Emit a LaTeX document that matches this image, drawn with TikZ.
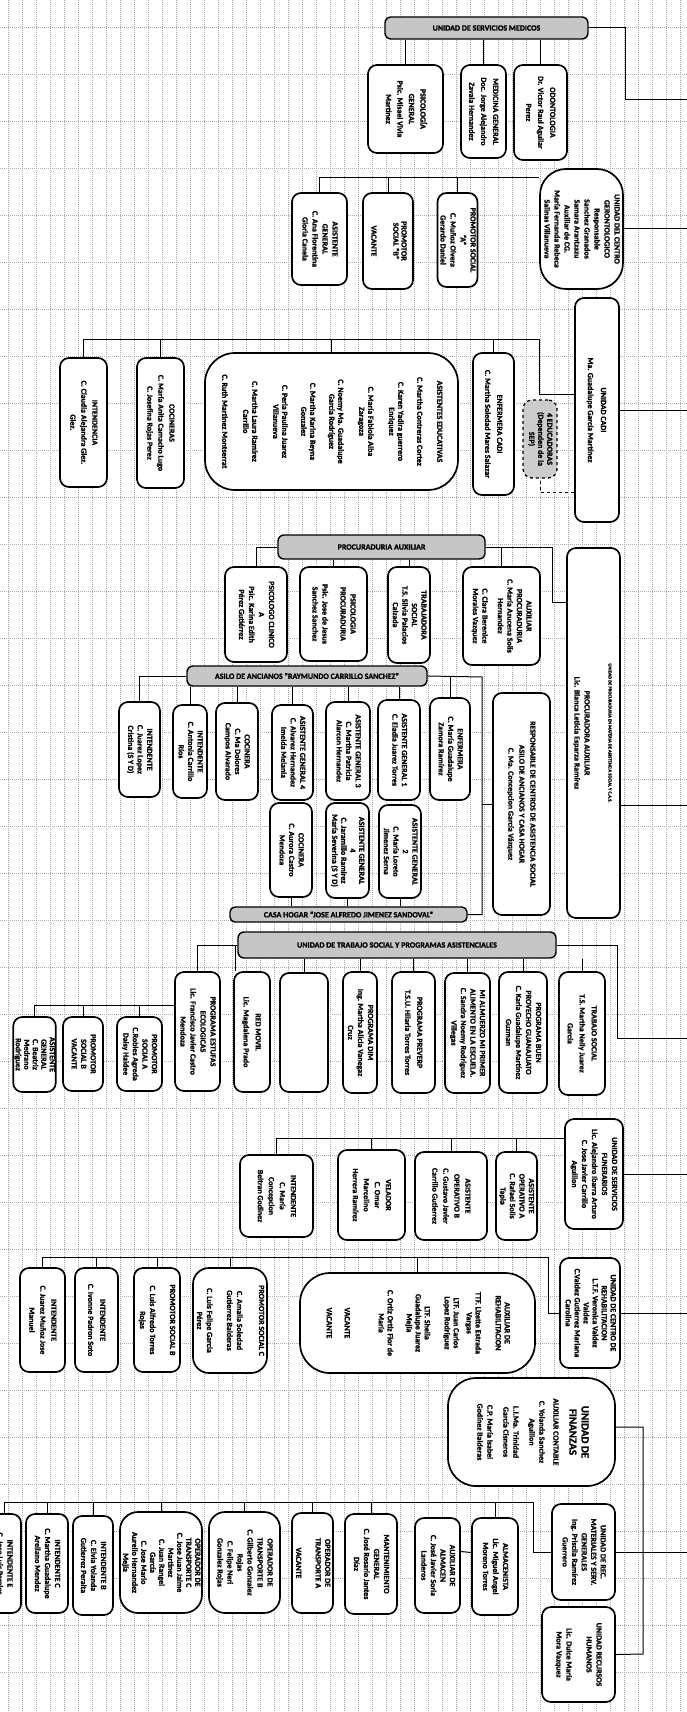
\documentclass[tikz,border=0pt]{standalone}
\usepackage{fontspec}
\setmainfont{Carlito}[BoldFeatures={FakeBold=1.3}]
\usepackage{graphicx}
\usetikzlibrary{backgrounds}
\newcommand\rtt[3]{\rotatebox{-90}{\fontsize{#1}{#2}\selectfont\begin{tabular}{@{}c@{}}#3\end{tabular}}}
\newcommand\rt[2][10]{\rtt{7.9}{#1}{#2}}
\tikzset{
 ubox/.style={draw, line width=1.7pt, rounded corners=9pt, fill=white, inner sep=0pt, font=\bfseries},
 hbox/.style={draw, line width=1.4pt, rounded corners=6pt, fill=gray!45, inner sep=0pt, font=\bfseries\fontsize{8}{9}\selectfont},
 conn/.style={line width=1pt},
 gridln/.style={gray!65, line width=0.45pt, dash pattern=on 0.7pt off 1.3pt},
}
\newcommand\UB[7][]{%
 \pgfmathsetmacro\bw{#5-#3}\pgfmathsetmacro\bh{#6-#4}%
 \node[ubox,minimum width=\bw pt,minimum height=\bh pt,#1] (#2) at ({(#3+#5)/2},{(#4+#6)/2}) {#7};}
\newcommand\HD[7][]{%
 \pgfmathsetmacro\bw{#5-#3}\pgfmathsetmacro\bh{#6-#4}%
 \node[hbox,minimum width=\bw pt,minimum height=\bh pt,#1] (#2) at ({(#3+#5)/2},{(#4+#6)/2}) {#7};}
\begin{document}
\begin{tikzpicture}[x=1pt,y=-1pt]
\path[use as bounding box] (0,0) rectangle (687,1712);
% ---------- SERVICIOS MEDICOS
\HD{sm}{385}{17}{588}{39}{UNIDAD DE SERVICIOS MEDICOS}
\UB{psg}{368}{65}{443}{153}{\rt[11.5]{PSICOLOGÍA\\GENERAL\\Psic. Misael Vivia\\Martinez}}
\UB{medg}{461}{65}{506}{158}{\rt[12]{MEDICINA GENERAL\\Doc. Jorge Alejandro\\Zavala Hernandez}}
\UB{odon}{514}{65}{567}{160}{\rt[12]{ODONTOLOGIA\\Dr. Victor Raul Aguilar\\Perez}}
% ---------- GERONTOLOGICO
\UB[rounded corners=26pt]{gero}{540}{169}{623}{289}{\rt[10]{UNIDAD DEL CENTRO\\GERONTOLOGICO\\Responsable\\Sanchez Granados\\Samara Arantzazu\\Auxiliar de CG.\\María Fernanda Rebeca\\Salinas Villanueva}}
\UB{psa}{438}{193}{477}{287}{\rt[10]{PROMOTOR SOCIAL\\"A"\\C. Muñoz Olvera\\Gerardo Daniel}}
\UB{psb}{363}{193}{413}{289}{\rt[8]{PROMOTOR\\SOCIAL "B"\\[14pt]VACANTE}}
\UB{agg}{292}{193}{347}{285}{\rt[10]{ASISTENTE\\GENERAL\\C. Ana Florentina\\Gloria Canela}}
% ---------- CADI
\UB{cadi}{575}{298}{619}{522}{\rt[13]{UNIDAD CADI\\Ma. Guadalupe García Martínez}}
\UB[dashed,fill=gray!40,line width=1.3pt]{educ}{523}{400}{557}{478}{\rt[9]{4 EDUCADORAS\\(Dependen de la\\SEP)}}
\UB{enfc}{473}{353}{514}{495}{\rt[12]{ENFERMERA CADI\\C. Martha Soledad Mares Salazar}}
\UB[rounded corners=30pt]{asised}{205}{353}{458}{490}{\rt[9]{ASISTENTES EDUCATIVAS\\[11pt]C. Martha Contreras Cortez\\[10pt]C. Karen Yadira guerrero\\Enriquez\\[12pt]C. María Fabiola Alba\\Zaragoza\\[12pt]C. Noemy Ma. Guadalupe\\García Rodríguez\\[10pt]C. Martha Karina Reyna\\Gonzalez\\[10pt]C. Perla Paulina Juarez\\Villanueva\\[12pt]C. Martha Laura Ramírez\\Carrillo\\[12pt]C. Ruth Martinez Montserrat}}
\UB{cocs}{137}{358}{184}{488}{\rt[11]{COCINERAS\\C. María Anita Camacho Lugo\\C. Josefina Rojas Perez}}
\UB{inten}{60}{358}{107}{487}{\rt[11]{INTENDENCIA\\C. Claudia Alejandra Glez.\\Glez.}}
% ---------- PROCURADURIA
\UB{upro}{567}{548}{620}{918}{\rtt{7.9}{10}{{\fontsize{4.6}{6}\selectfont UNIDAD DE PROCURADURIA EN MATERIA DE ASISTENCIA SOCIAL Y C.A.S.}\\[14pt]PROCURADORA AUXILIAR\\Lic. Blanca Leticia Esparza Ramírez}}
\HD{pa}{278}{535}{485}{559}{PROCURADURIA AUXILIAR}
\UB{auxp}{463}{567}{540}{665}{\rt[9.5]{AUXILIAR\\PROCURADURIA\\C. María Azucena Solis\\Hernandez\\[6pt]C. Clara Berenice\\Morales Vazquez}}
\UB{tsp}{388}{567}{430}{663}{\rt[9.5]{TRABAJADORA\\SOCIAL\\T.S. Silvia Palacios\\Calzada}}
\UB{psp}{300}{567}{367}{661}{\rt[10]{PSICOLOGIA\\PROCURADURIA\\[8pt]Psic. Jose de Jesus\\Sanchez Sanchez}}
\UB{psc}{225}{567}{287}{662}{\rt[10]{PSICOLOGO CLINICO\\A\\Psic. Karina Edith\\Pérez Gutiérrez}}
\UB{resp}{493}{693}{550}{915}{\rt[11]{RESPONSABLE DE CENTROS DE ASISTENCIA SOCIAL\\ASILO DE ANCIANOS Y CASA HOGAR\\C. Ma. Concepcion García Vázquez}}
\HD{asilo}{187}{666}{427}{686}{ASILO DE ANCIANOS "RAYMUNDO CARRILLO SANCHEZ"}
\UB{enf}{430}{698}{470}{800}{\rt[9.5]{ENFERMERA\\C. María Guadalupe\\Zamora Ramírez}}
\UB{agu}{378}{700}{420}{800}{\rt[9.5]{ASISTENTE GENERAL 1\\C. Eladia Juarez Torres}}
\UB{agt}{326}{702}{370}{800}{\rt[9.5]{ASISTENTE GENERAL 3\\C. Martha Patricia\\Alarcon Hernandez}}
\UB{agc}{272}{705}{313}{800}{\rt[9.5]{ASISTENTE GENERAL 4\\C. Alvarez Hernandez\\Imelda Melania}}
\UB{coca}{216}{703}{258}{800}{\rt[9.5]{COCINERA\\C. Ma Dolores\\Campos Alvarado}}
\UB{intb1}{173}{705}{207}{798}{\rt[9.5]{INTENDENTE\\C. Antonia Carrillo\\Ríos}}
\UB{inta1}{119}{702}{160}{797}{\rt[9.5]{INTENDENTE\\C. Juarez Lopez\\Cristina (S Y D)}}
\UB{cocb}{270}{803}{312}{897}{\rt[9.5]{COCINERA\\C. Aurora Castro\\Mendoza}}
\UB{agcb}{326}{803}{369}{898}{\rt[9]{ASISTENTE GENERAL\\4\\C. Jaramillo Ramirez\\María Severina (S Y D)}}
\UB{agd}{379}{805}{421}{898}{\rt[9.5]{ASISTENTE GENERAL\\2\\C. María Loreto\\Jimenez Serna}}
\HD[rounded corners=5pt]{casa}{230}{907}{467}{922}{CASA HOGAR "JOSE ALFREDO JIMENEZ SANDOVAL"}
% ---------- TRABAJO SOCIAL
\HD{ut}{238}{932}{556}{958}{UNIDAD DE TRABAJO SOCIAL Y PROGRAMAS ASISTENCIALES}
\UB{ts}{559}{972}{605}{1095}{\rt[12]{TRABAJO SOCIAL\\T.S. Martha Nelly Juarez\\García}}
\UB{buen}{499}{972}{547}{1093}{\rt[10]{PROGRAMA BUEN\\PROVECHO GUANAJUATO\\C. Karla Guadalupe Martínez\\Guzman}}
\UB{alm}{445}{973}{490}{1093}{\rt[9.5]{MI ALMUERZO MI PRIMER\\ALIMENTO EN LA ESCUELA.\\C. Sandra Noemy Rodriguez\\Villegas}}
\UB{prev}{392}{972}{435}{1093}{\rt[12]{PROGRAMA PREVERP\\T.S.U. Hilaria Torres Torres}}
\UB{dim}{343}{972}{377}{1093}{\rt[10]{PROGRAMA DIM\\Ing. Martha Alicia Vanegaz\\Cruz}}
\UB{empty}{280}{973}{328}{1092}{}
\UB{red}{234}{972}{270}{1092}{\rt[12]{RED MOVIL\\Lic. Magdalena Prado}}
\UB{est}{175}{972}{220}{1091}{\rt[10]{PROGRAMA ESTUFAS\\ECOLOGICAS\\Lic. Francisco Javier Castro\\Mendoza}}
\UB{psa2}{117}{1017}{162}{1091}{\rt[9.5]{PROMOTOR\\SOCIAL A\\C.Robles Agreda\\Daisy Haidee}}
\UB{psb2}{63}{1017}{103}{1091}{\rt[9.5]{PROMOTOR\\SOCIAL B\\VACANTE}}
\UB{agl}{14}{1017}{55}{1092}{\rt[8.5]{ASISTENTE\\GENERAL\\C. Beatriz\\Medrano\\Rodríguez}}
% ---------- FUNERARIOS
\UB{fun}{565}{1119}{623}{1229}{\rt[10]{UNIDAD DE SERVICIOS\\FUNERARIOS\\Lic. Alejandro Ibarra Arturo\\C. Jose Javier Carrillo\\Aguillon}}
\UB{aoa}{496}{1152}{537}{1240}{\rt[9.5]{ASISTENTE\\OPERATIVO A\\C. Rafael Solis\\Tapia}}
\UB{aob}{415}{1152}{487}{1240}{\rt[11]{ASISTENTE\\OPERATIVO B\\C. Gustavo Javier\\Carrillo Gutierrez}}
\UB{vel}{338}{1150}{405}{1240}{\rt[11]{VELADOR\\C. Omar\\Marcelino\\Herrera Ramírez}}
\UB{intf}{240}{1155}{313}{1237}{\rt[11]{INTENDENTE\\C. María\\Concepcion\\Beltran Godinez}}
% ---------- REHABILITACION
\UB{reh}{560}{1258}{620}{1368}{\rt[9]{UNIDAD DE CENTRO DE\\REHABILITACION\\L.T.F. Veronica Valdez\\Valdez\\C.Valdez Gutierrez Mariana\\Carolina}}
\UB[rounded corners=30pt]{auxr}{300}{1273}{535}{1373}{\rt[9]{AUXILIAR DE\\REHABILITACION\\[11pt]TTF. Lizette Estrada\\Vargas\\[4pt]LTF. Juan Carlos\\Lopez Rodríguez\\[11pt]LTF. Shelia\\Guadalupe Juarez\\Mejía\\[10pt]C. Ortiz Ortiz Flor de\\María\\[25pt]VACANTE\\[9pt]VACANTE}}
\UB[rounded corners=16pt]{psc3}{193}{1268}{267}{1373}{\rt[10]{PROMOTOR SOCIAL C\\[12pt]C. Amalia Soledad\\Gutierrez Balderas\\[10pt]C. Luis Felipe Garcia\\Pérez}}
\UB{psb3}{134}{1268}{180}{1372}{\rt[10]{PROMOTOR SOCIAL B\\[10pt]C. Luis Alfredo Torres\\Rojas}}
\UB{int4}{75}{1268}{118}{1372}{\rt[12]{INTENDENTE\\C. Ivonne Padron Soto}}
\UB{int5}{20}{1268}{65}{1372}{\rt[11]{INTENDENTE\\C. Juarez Muñoz Jose\\Manuel}}
% ---------- FINANZAS / REC MAT / RH
\UB[rounded corners=28pt]{fin}{448}{1378}{615}{1486}{\rtt{7.9}{10}{{\fontsize{11}{12}\selectfont UNIDAD DE}\\[2pt]{\fontsize{11}{12}\selectfont FINANZAS}\\[6pt]AUXILIAR CONTABLE\\[4pt]C. Yolanda Sanchez\\Aguillon\\[6pt]L.I.Ma. Trinidad\\García Cisneros\\[6pt]C.P. María Isabel\\Godínez Balderas}}
\UB{rec}{552}{1504}{615}{1600}{\rt[9.5]{UNIDAD DE REC.\\MATERIALES Y SERV.\\GENERALES\\Ing. Priscila Ramírez\\Guerrero}}
\UB{rh}{542}{1607}{615}{1702}{\rt[10]{UNIDAD RECURSOS\\HUMANOS\\[10pt]Lic. Dulce María\\Mora Vazquez}}
\UB{almac}{472}{1518}{518}{1615}{\rt[10]{ALMACENISTA\\Lic. Miguel Angel\\Moreno Torres}}
\UB{auxalm}{415}{1518}{460}{1613}{\rt[9.5]{AUXILIAR DE\\ALMACEN\\C. José Javier Soria\\Landeros}}
\UB{mant}{345}{1514}{397}{1614}{\rt[10]{MANTENIMIENTO\\GENERAL\\C. José Rosario Jantes\\Díaz}}
\UB{ota}{292}{1513}{333}{1613}{\rt[9.5]{OPERADOR DE\\TRANSPORTE A\\[10pt]VACANTE}}
\UB[rounded corners=16pt]{otb}{209}{1512}{280}{1613}{\rt[10]{OPERADOR DE\\TRANSPORTE B\\C. Gilberto Gonzalez\\Rojas\\C. Felipe Neri\\Gonzalez Rojas}}
\UB[rounded corners=18pt]{otc}{120}{1512}{202}{1613}{\rt[9]{OPERADOR DE\\TRANSPORTE C\\C. Jose Juan Jaime\\Martinez\\C. Juan Rangel\\García\\C. Jose Mario\\Aurelio Hernandez\\Mejía}}
\UB{intbb}{73}{1516}{113}{1615}{\rt[10]{INTENDENTE B\\C. Elvia Yolanda\\Gutierrez Peralta}}
\UB{intcc}{26}{1514}{68}{1613}{\rt[10]{INTENDENTE C\\C. Martha Guadalupe\\Arellano Mendez}}
\UB{intee}{-12}{1514}{21}{1613}{\rt[10]{INTENDENTE E\\C. Jose Luis Perales}}
% ---------- background: grid and connectors
\begin{pgfonlayer}{background}
\fill[white] (0,0) rectangle (687,1712);
\foreach \i in {0,...,49} \draw[gridln] ({8+14*\i},0) -- ({8+14*\i},1712);
\foreach \j in {0,...,36} \draw[gridln] (0,{27+47*\j}) -- (687,{27+47*\j});
\begin{scope}[conn]
% servicios medicos
\draw (sm.east) -| (625,100) -- +(100,0);
\foreach \n in {psg,medg,odon} \draw (\n.north) -- (\n.north |- sm.south);
% gerontologico
\draw (gero.east) -- +(100,0);
\coordinate (gb) at (323,178);
\draw (gero.west |- gb) -| (agg.north);
\foreach \n in {psa,psb} \draw (\n.north) -- (\n.north |- gb);
% cadi
\draw (cadi.east) -- +(100,0);
\coordinate (cb) at (539,339);
\draw ([yshift=16pt]cadi.west) -| (cb) -| (inten.north);
\foreach \n in {enfc,asised,cocs} \draw (\n.north) -- (\n.north |- cb);
\draw[dashed] ([yshift=-82pt]cadi.west) -| (educ.south);
% procuraduria
\draw ([yshift=-72pt]upro.east) -- +(100,0);
\draw (pa.east) -- (552,547) |- ([yshift=131pt]upro.west);
\draw (auxp.north) -- (auxp.north |- pa.east);
\foreach \n in {tsp,psp} \draw (\n.north) -- (\n.north |- pa.south);
\draw (pa.west) -| (psc.north);
\coordinate (av) at (482,677);
\draw (asilo.east) -- (av) |- (casa.east);
\draw (resp.west) -- (resp.west -| av);
\draw (enf.north) -- (enf.north |- av);
\draw (asilo.west) -| (inta1.north);
\foreach \n in {intb1,coca,agc,agt,agu} \draw (\n.north) -- (\n.north |- asilo.south);
\foreach \n in {cocb,agcb,agd} \draw (\n.south) -- (\n.south |- casa.north);
% trabajo social
\draw (ut.east) -| (617,1038) -- +(100,0);
\foreach \n in {ts,buen,alm,prev,dim,empty} \draw (\n.north) -- (\n.north |- ut.south);
\draw (ut.west) -| (est.north);
\path ([xshift=-17pt]red.north) coordinate (rd);
\draw (rd) -- (rd |- ut.west);
\path ([yshift=26pt]est.west) coordinate (eb);
\draw (eb) -| (agl.north);
\foreach \n in {psa2,psb2} \draw (\n.north) -- (\n.north |- eb);
% funerarios
\draw (fun.east) -- +(100,0);
\path ([yshift=36pt]fun.west) coordinate (fb);
\draw (fb) -| (intf.north);
\foreach \n in {aoa,aob,vel} \draw (\n.north) -- (\n.north |- fb);
% rehabilitacion
\draw (reh.east) -- +(100,0);
\coordinate (rb) at (548,1257);
\draw (reh.west) -| (rb) -| (int5.north);
\foreach \n in {auxr,psc3,psb3,int4} \draw (\n.north) -- (\n.north |- rb);
% finanzas, materiales, rh
\draw ([yshift=5pt]fin.east) -| (643,1654) -- (rh.east);
\draw (rec.east) -- +(100,0);
\coordinate (mb) at (533,1502);
\draw (rec.west) -| (mb) -| (intee.north);
\foreach \n in {almac,mant,ota,otb,otc,intbb,intcc} \draw (\n.north) -- (\n.north |- mb);
\draw ([yshift=14pt]auxalm.east) -- ([yshift=14pt]almac.west);
\end{scope}
\end{pgfonlayer}
\end{tikzpicture}
\end{document}
